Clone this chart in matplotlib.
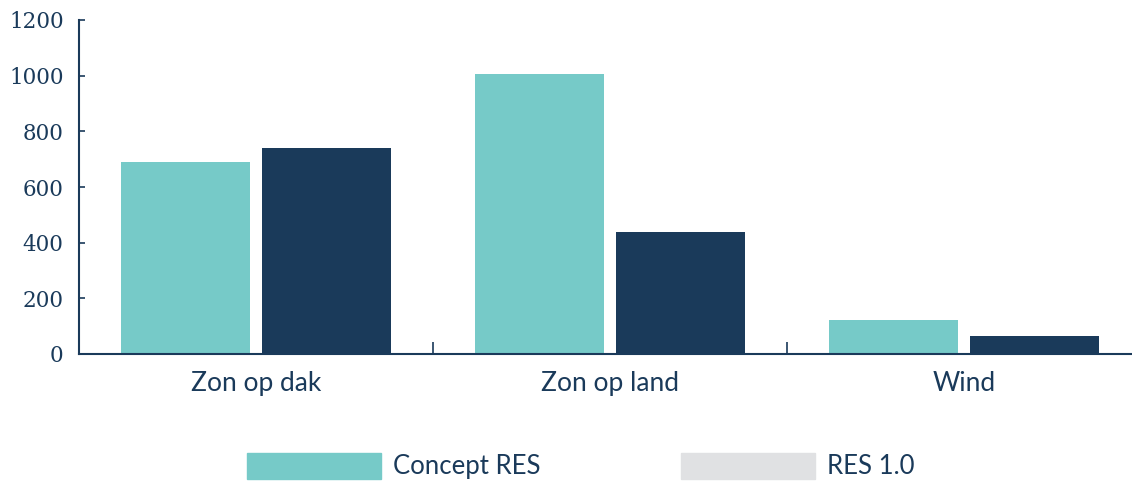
import matplotlib
matplotlib.use("Agg")
import matplotlib.pyplot as plt
from matplotlib.patches import Patch
import numpy as np

categories = ["Zon op dak", "Zon op land", "Wind"]
concept_res = [690, 1005, 122]
res_10 = [740, 438, 65]
series_names = ["Concept RES", "RES 1.0"]
y_ticks = [0, 200, 400, 600, 800, 1000, 1200]

teal = "#76cac8"
navy = "#1a3a5a"
gray = "#e0e1e3"

fig = plt.figure(figsize=(11.32, 4.82), dpi=100)
ax = fig.add_axes([79/1132, 1-354/482, 1053/1132, 334/482])

x = np.arange(len(categories))
w = 0.362
off = 0.199
ax.bar(x - off, concept_res, width=w, color=teal, zorder=2)
ax.bar(x + off, res_10, width=w, color=navy, zorder=2)

ax.set_xlim(-0.5, 2.5 - 9/354)
ax.set_ylim(0, 1200)
ax.set_yticks(y_ticks)
ax.set_yticklabels([str(t) for t in y_ticks], family="DejaVu Serif", fontsize=15.5, color=navy)
ax.set_xticks(x)
ax.set_xticklabels(categories, family="Lato", fontsize=19, color=navy)
ax.tick_params(axis="x", which="major", length=0, pad=12)
ax.set_xticks([0.5, 1.5], minor=True)
ax.tick_params(axis="x", which="minor", direction="in", length=9, width=1.2, color=navy)
ax.tick_params(axis="y", direction="in", length=4, width=1.2, color=navy, pad=11)

for s in ["top", "right"]:
    ax.spines[s].set_visible(False)
for s in ["left", "bottom"]:
    ax.spines[s].set_color(navy)
    ax.spines[s].set_linewidth(1.5)

handles = [Patch(color=teal), Patch(color=gray)]
fig.legend(handles, series_names, loc="center", bbox_to_anchor=(581/1132, 1-466/482),
           ncol=2, frameon=False, handlelength=5.2, handleheight=1.2,
           handletextpad=0.5, columnspacing=5.45, borderpad=0.2,
           prop={"family": "Lato", "size": 18.5}, labelcolor=navy)

fig.savefig("out.png", dpi=100)
